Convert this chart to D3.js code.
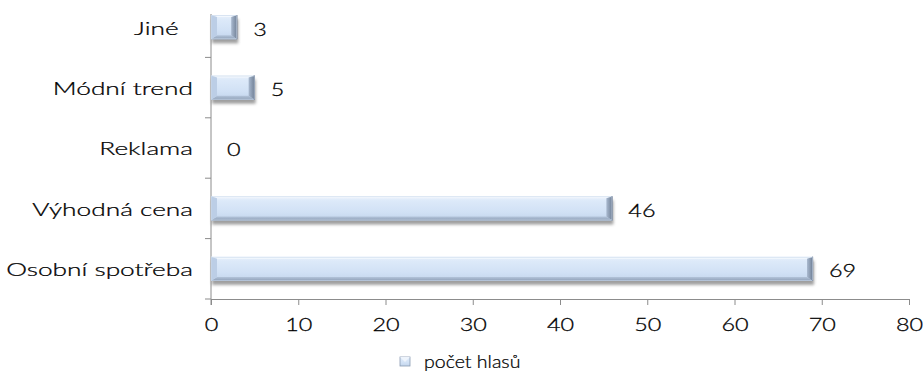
<!DOCTYPE html>
<html>
<head>
<meta charset="utf-8">
<script src="https://cdn.jsdelivr.net/npm/d3@7"></script>
<style>
  html, body { margin: 0; padding: 0; background: #fff; }
  svg { display: block; }
  text { font-family: Lato, "Open Sans", sans-serif; font-weight: 300; fill: #000; stroke: #000; stroke-width: 0.25; }
</style>
</head>
<body>
<svg id="chart" width="924" height="374"></svg>
<script>
// Reasons for buying, number of votes per answer (top to bottom)
const categories = ["Jiné", "Módní trend", "Reklama", "Výhodná cena", "Osobní spotřeba"];
const votes = [3, 5, 0, 46, 69];
const xTicks = [0, 10, 20, 30, 40, 50, 60, 70, 80];
const seriesName = "počet hlasů";

const svg = d3.select("#chart");
const labelFont = { size: 18, stretch: 1.46 };  // category names
const numFont = { size: 18, stretch: 1.3 };     // tick and value numbers
const legendFont = { size: 17, stretch: 1.15 };

const x = d3.scaleLinear().domain([0, 80]).range([211, 909]);
const y = d3.scaleBand().domain(categories).range([-3, 299])
  .paddingInner(0.6).paddingOuter(0.3);
const axisColor = "#8c8c8c";

// gradients and shadow
const defs = svg.append("defs");
const body = defs.append("linearGradient").attr("id", "barBody")
  .attr("x1", 0).attr("y1", 0).attr("x2", 0).attr("y2", 1);
[[0, "#e9f1fb"], [0.2, "#dce9f9"], [0.65, "#d1e1f5"], [1, "#c3d5ec"]]
  .forEach(([o, c]) => body.append("stop").attr("offset", o).attr("stop-color", c));
const bottomG = defs.append("linearGradient").attr("id", "barBottom")
  .attr("x1", 0).attr("y1", 0).attr("x2", 0).attr("y2", 1);
[[0, "#b4c5db"], [1, "#8e9fb6"]]
  .forEach(([o, c]) => bottomG.append("stop").attr("offset", o).attr("stop-color", c));
const rightG = defs.append("linearGradient").attr("id", "barRight")
  .attr("x1", 0).attr("y1", 0).attr("x2", 1).attr("y2", 0);
[[0, "#a9b9cf"], [1, "#6f7f95"]]
  .forEach(([o, c]) => rightG.append("stop").attr("offset", o).attr("stop-color", c));
const shadow = defs.append("filter").attr("id", "shadow")
  .attr("x", "-10%").attr("y", "-50%").attr("width", "120%").attr("height", "200%");
shadow.append("feGaussianBlur").attr("stdDeviation", 1.8);

// category axis line and band ticks
const axisG = svg.append("g");
axisG.append("line")
  .attr("x1", x(0)).attr("x2", x(0)).attr("y1", 14).attr("y2", y.range()[1] + 6)
  .attr("stroke", axisColor);
const step = y.step();
const boundaries = categories.map((c, i) => y.range()[0] + (i + 1) * step);
axisG.selectAll(".ytick").data(boundaries).join("line")
  .attr("x1", x(0) - 6).attr("x2", x(0))
  .attr("y1", d => d).attr("y2", d => d)
  .attr("stroke", axisColor);

// value axis
const xAxis = svg.append("g").attr("transform", `translate(0,${y.range()[1]})`)
  .call(d3.axisBottom(x).tickValues(xTicks).tickSize(6).tickPadding(13).tickSizeOuter(0));
xAxis.attr("font-family", null).attr("font-size", null);
xAxis.select(".domain").attr("stroke", axisColor);
xAxis.selectAll(".tick line").attr("stroke", axisColor);
xAxis.selectAll(".tick text")
  .attr("font-size", numFont.size)
  .attr("fill", null)
  .attr("transform", `scale(${numFont.stretch},1)`)
  .attr("text-anchor", "middle");

// category labels
svg.append("g").selectAll("text").data(categories).join("text")
  .attr("transform", d => `translate(193,${y(d) + y.bandwidth() / 2 + 1}) scale(${labelFont.stretch},1)`)
  .attr("text-anchor", "end")
  .attr("dy", "0.36em")
  .attr("font-size", labelFont.size)
  .text(d => d === "Jiné" ? d + "\u00a0\u00a0" : d);

// bars
const rows = categories.map((c, i) => ({ c, v: votes[i] }));
const bars = svg.append("g").selectAll("g").data(rows.filter(r => r.v > 0)).join("g");

bars.each(function (d) {
  const g = d3.select(this);
  const x0 = x(0), x1 = x(d.v);
  const y0 = y(d.c), h = y.bandwidth(), y1 = y0 + h;
  const w = x1 - x0;
  const b = Math.min(6, w / 2), t = 2, bb = 4;
  const poly = pts => pts.map(p => p.join(",")).join(" ");

  g.append("rect").attr("x", x0 + 1).attr("y", y0 + 4).attr("width", w).attr("height", h)
    .attr("fill", "#5e5e5e").attr("opacity", 0.6).attr("filter", "url(#shadow)");
  g.append("rect").attr("x", x0).attr("y", y0).attr("width", w).attr("height", h)
    .attr("fill", "url(#barBody)");
  // top bevel
  g.append("polygon").attr("points", poly([[x0, y0], [x1, y0], [x1 - b, y0 + t], [x0 + b, y0 + t]]))
    .attr("fill", "#f3f8fe");
  // bottom bevel
  g.append("polygon").attr("points", poly([[x0, y1], [x1, y1], [x1 - b, y1 - bb], [x0 + b, y1 - bb]]))
    .attr("fill", "url(#barBottom)");
  // left bevel
  g.append("polygon").attr("points", poly([[x0, y0], [x0 + b, y0 + t], [x0 + b, y1 - bb], [x0, y1]]))
    .attr("fill", "#bccee6");
  // right bevel
  g.append("polygon").attr("points", poly([[x1, y0], [x1 - b, y0 + t], [x1 - b, y1 - bb], [x1, y1]]))
    .attr("fill", "url(#barRight)");
  g.append("line").attr("x1", x1 - 0.5).attr("x2", x1 - 0.5).attr("y1", y0).attr("y2", y1)
    .attr("stroke", "#667389").attr("stroke-width", 1.2);
  g.append("rect").attr("x", x0 + 0.5).attr("y", y0 + 0.5).attr("width", w - 1).attr("height", h - 1)
    .attr("fill", "none").attr("stroke", "#c9d8ea").attr("stroke-width", 0.6);
});

// value labels
svg.append("g").selectAll("text").data(rows).join("text")
  .attr("transform", d => `translate(${x(d.v) + 16},${y(d.c) + y.bandwidth() / 2 + 2}) scale(${numFont.stretch},1)`)
  .attr("dy", "0.36em")
  .attr("font-size", numFont.size)
  .text(d => d.v);

// legend
const legend = svg.append("g").attr("transform", "translate(400,362)");
legend.append("rect").attr("x", 0).attr("y", -5).attr("width", 10).attr("height", 9)
  .attr("fill", "url(#barBody)").attr("stroke", "#8a9bb2").attr("stroke-width", 0.8);
legend.append("polygon").attr("points", "0,-5 10,-5 5,0").attr("fill", "#eef4fc");
legend.append("text")
  .attr("transform", `translate(24,0) scale(${legendFont.stretch},1)`)
  .attr("dy", "0.36em")
  .attr("font-size", legendFont.size)
  .text(seriesName);
</script>
</body>
</html>
